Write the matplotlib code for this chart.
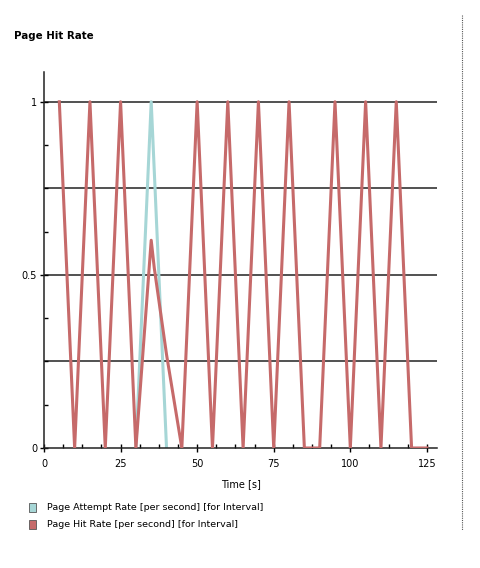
import numpy as np
import matplotlib
matplotlib.use("Agg")
import matplotlib.pyplot as plt
from matplotlib.patches import Patch
from matplotlib.lines import Line2D
from matplotlib.ticker import MultipleLocator

# values
hit_t = [5, 10, 15, 20, 25, 30, 35, 36, 40, 45, 50, 55, 60, 65, 70, 75,
         80, 85, 90, 95, 100, 105, 110, 115, 120, 125]
hit_rate = [1, 0, 1, 0, 1, 0, 0.6, 0.52, 0.27, 0, 1, 0, 1, 0, 1, 0,
            1, 0, 0, 1, 0, 1, 0, 1, 0, 0]
attempt_t = [30, 35, 40]
attempt_rate = [0, 1, 0]

x_ticks = [0, 25, 50, 75, 100, 125]
y_ticks = [0, 0.5, 1]
y_grid = [0.25, 0.5, 0.75, 1]

red = "#c66a6a"
cyan = "#a6d6d6"

fig = plt.figure(figsize=(4.8, 5.68), dpi=100)
ax = fig.add_axes([44 / 480, 1 - 448 / 568, (437 - 44) / 480, (448 - 72) / 568])

for g in y_grid:
    ax.axhline(g, color="#222222", lw=1.1, zorder=1)

ax.plot(attempt_t, attempt_rate, color=cyan, lw=2.2, zorder=2)
ax.plot(hit_t, hit_rate, color=red, lw=2.2, zorder=3)

ax.set_xlim(0, 128.3)
ax.set_ylim(0, 1.086)
for s in ["top", "right"]:
    ax.spines[s].set_visible(False)
for s in ["left", "bottom"]:
    ax.spines[s].set_linewidth(1.1)
    ax.spines[s].set_color("#222222")

ax.set_xticks(x_ticks)
ax.set_yticks(y_ticks)
ax.set_yticklabels(["0", "0.5", "1"])
ax.xaxis.set_minor_locator(MultipleLocator(6.25))
ax.yaxis.set_minor_locator(MultipleLocator(0.125))
ax.tick_params(which="major", direction="inout", length=6, width=1, labelsize=7)
ax.tick_params(axis="x", which="major", pad=5)
ax.tick_params(axis="y", which="major", pad=2)
ax.tick_params(which="minor", direction="in", length=3, width=1)

ax.set_xlabel("Time [s]", fontsize=7, labelpad=7)

fig.text(14 / 480, 1 - 36 / 568, "Page Hit Rate", fontsize=7.4, fontweight="bold",
         va="center", ha="left")

# dotted separator on the right
fig.add_artist(Line2D([462 / 480, 462 / 480], [1 - 15 / 568, 1 - 530 / 568],
                      transform=fig.transFigure, color="#555555", lw=0.8,
                      linestyle=(0, (1, 1))))

handles = [Patch(facecolor=cyan, edgecolor="#555555", lw=0.6),
           Patch(facecolor=red, edgecolor="#555555", lw=0.6)]
labels = ["Page Attempt Rate [per second] [for Interval]",
          "Page Hit Rate [per second] [for Interval]"]
fig.legend(handles, labels, loc="upper left", bbox_to_anchor=(24 / 480, 1 - 498 / 568),
           frameon=False, fontsize=6.8, handlelength=0.75, handleheight=1.1,
           handletextpad=1.2, labelspacing=0.75, borderpad=0)

fig.savefig("out.png", dpi=100)
